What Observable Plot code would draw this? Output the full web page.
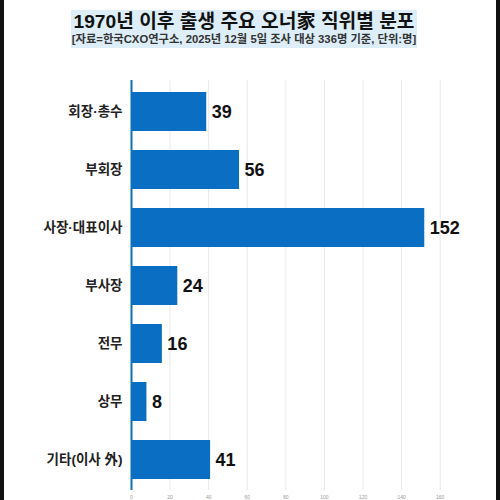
<!DOCTYPE html>
<html>
<head>
<meta charset="utf-8">
<script src="https://cdn.jsdelivr.net/npm/d3@7"></script>
<script src="https://cdn.jsdelivr.net/npm/@observablehq/plot@0.6"></script>
<style>
  html, body { margin: 0; padding: 0; background: #fff; }
  body { width: 500px; height: 500px; position: relative; overflow: hidden; font-family: "Liberation Sans", "Noto Sans CJK KR", sans-serif; }
  .bl { position: absolute; top: 0; bottom: 0; width: 4px; background: #111; }
  #head { height: 60px; position: relative; }
  #box { position: absolute; left: 71px; top: 10px; width: 346px; height: 38px; background: #ddeef8; }
  #title { position: absolute; left: 0; width: 488px; top: 11px; line-height: 22px; height: 22px; text-align: center; font-size: 19.2px; font-weight: 700; color: #111; }
  #sub { position: absolute; left: 0; width: 488px; top: 33px; line-height: 13px; height: 13px; text-align: center; font-size: 11.3px; font-weight: 700; color: #333; }
  #chart svg { display: block; }
</style>
</head>
<body>
<div id="head">
  <div id="box"></div>
  <div id="title">1970년 이후 출생 주요 오너家 직위별 분포</div>
  <div id="sub">[자료=한국CXO연구소, 2025년 12월 5일 조사 대상 336명 기준, 단위:명]</div>
</div>
<div id="chart"></div>
<div class="bl" style="left:0"></div>
<div class="bl" style="right:0"></div>
<script>
const categories = ["회장·총수", "부회장", "사장·대표이사", "부사장", "전무", "상무", "기타(이사 外)"];
const values = [39, 56, 152, 24, 16, 8, 41];
const xTicks = [0, 20, 40, 60, 80, 100, 120, 140, 160];

const data = categories.map((c, i) => ({category: c, value: values[i]}));
const blue = "#0a6ec2";

const chart = Plot.plot({
  width: 500,
  height: 440,
  marginTop: 20,
  marginBottom: 10,
  marginLeft: 131,
  marginRight: 41,
  style: {fontFamily: '"Liberation Sans", "Noto Sans CJK KR", sans-serif', background: "transparent"},
  x: {domain: [0, 170], ticks: xTicks, label: null},
  y: {domain: categories, paddingInner: 0.33, paddingOuter: 0.165, label: null},
  marks: [
    Plot.ruleX(xTicks, {stroke: "#e8e8e8", strokeWidth: 1}),
    Plot.axisX(xTicks, {tickSize: 0, tickPadding: 5, fontSize: 5, fill: "#999", label: null}),
    Plot.axisY({tickSize: 0, tickPadding: 9, fontSize: 13.5, fontWeight: 700, fill: "#222", label: null}),
    Plot.barX(data, {x: "value", y: "category", fill: blue}),
    Plot.ruleX([0], {stroke: blue, strokeWidth: 2}),
    Plot.text(data, {x: "value", y: "category", text: d => String(d.value), textAnchor: "start", dx: 5, fontSize: 18, fontWeight: 700, fill: "#111"})
  ]
});
document.getElementById("chart").appendChild(chart);
</script>
</body>
</html>
